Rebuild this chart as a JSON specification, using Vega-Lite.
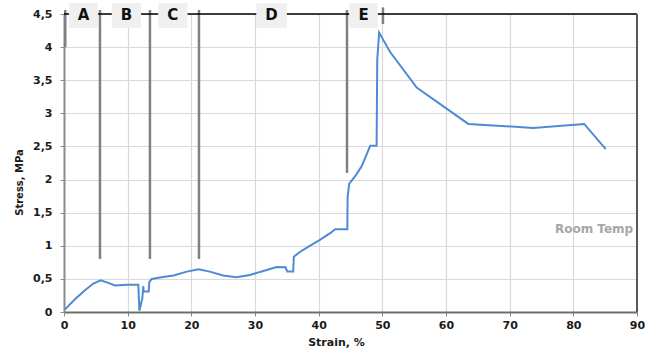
{
  "$schema": "https://vega.github.io/schema/vega-lite/v6.json",
  "autosize": {"type": "none"},
  "padding": {"left": 64, "top": 14, "right": 8, "bottom": 47},
  "width": 573,
  "height": 298,
  "background": "white",
  "config": {
    "view": {"stroke": null},
    "font": "DejaVu Sans",
    "axis": {
      "labelFont": "DejaVu Sans", "labelFontWeight": "bold", "labelFontSize": 11, "labelColor": "#1a1a1a",
      "titleFont": "DejaVu Sans", "titleFontWeight": "bold", "titleFontSize": 11, "titleColor": "#1a1a1a",
      "gridColor": "#d9d9d9", "gridWidth": 1.2, "tickColor": "#8c8c8c", "tickSize": 4, "labelOverlap": false, "labelFlush": false
    }
  },
  "datasets": {
    "curve": [
      {"strain": 0.16, "stress": 0.04},
      {"strain": 1.8, "stress": 0.2},
      {"strain": 3.3, "stress": 0.33},
      {"strain": 4.6, "stress": 0.43},
      {"strain": 5.76, "stress": 0.48},
      {"strain": 6.96, "stress": 0.44},
      {"strain": 8.0, "stress": 0.40},
      {"strain": 9.85, "stress": 0.41},
      {"strain": 11.67, "stress": 0.41},
      {"strain": 12.46, "stress": 0.39},
      {"strain": 12.2, "stress": 0.17},
      {"strain": 11.85, "stress": 0.02},
      {"strain": 12.05, "stress": 0.1},
      {"strain": 12.3, "stress": 0.2},
      {"strain": 12.5, "stress": 0.31},
      {"strain": 13.3, "stress": 0.31},
      {"strain": 13.4, "stress": 0.45},
      {"strain": 13.77, "stress": 0.50},
      {"strain": 15.1, "stress": 0.52},
      {"strain": 17.2, "stress": 0.55},
      {"strain": 19.3, "stress": 0.61},
      {"strain": 21.1, "stress": 0.645},
      {"strain": 22.9, "stress": 0.61},
      {"strain": 25.0, "stress": 0.55},
      {"strain": 27.1, "stress": 0.525},
      {"strain": 29.2, "stress": 0.56},
      {"strain": 31.3, "stress": 0.62},
      {"strain": 33.4, "stress": 0.68},
      {"strain": 34.8, "stress": 0.675},
      {"strain": 35.07, "stress": 0.61},
      {"strain": 36.0, "stress": 0.61},
      {"strain": 36.1, "stress": 0.835},
      {"strain": 37.1, "stress": 0.91},
      {"strain": 38.6, "stress": 1.0},
      {"strain": 40.2, "stress": 1.09},
      {"strain": 41.8, "stress": 1.19},
      {"strain": 42.6, "stress": 1.25},
      {"strain": 44.5, "stress": 1.25},
      {"strain": 44.55, "stress": 1.74},
      {"strain": 44.8, "stress": 1.94},
      {"strain": 45.8, "stress": 2.06},
      {"strain": 46.75, "stress": 2.2},
      {"strain": 48.1, "stress": 2.51},
      {"strain": 49.1, "stress": 2.51},
      {"strain": 49.2, "stress": 3.81},
      {"strain": 49.5, "stress": 4.22},
      {"strain": 51.2, "stress": 3.93},
      {"strain": 55.4, "stress": 3.39},
      {"strain": 63.5, "stress": 2.84},
      {"strain": 73.7, "stress": 2.78},
      {"strain": 81.7, "stress": 2.84},
      {"strain": 85.1, "stress": 2.46}
    ],
    "markers": [
      {"strain": 0.2, "top": 4.56, "bottom": 4.0},
      {"strain": 5.65, "top": 4.56, "bottom": 0.8},
      {"strain": 13.5, "top": 4.56, "bottom": 0.8},
      {"strain": 21.2, "top": 4.56, "bottom": 0.8},
      {"strain": 44.45, "top": 4.56, "bottom": 2.1},
      {"strain": 50.1, "top": 4.6, "bottom": 4.35}
    ],
    "boxes": [
      {"label": "A", "x1": 0.79, "x2": 5.35, "mid": 3.07},
      {"label": "B", "x1": 7.5, "x2": 12.1, "mid": 9.8},
      {"label": "C", "x1": 14.8, "x2": 19.4, "mid": 17.1},
      {"label": "D", "x1": 30.2, "x2": 35.0, "mid": 32.6},
      {"label": "E", "x1": 44.8, "x2": 49.3, "mid": 47.05}
    ],
    "note": [{"strain": 89.4, "stress": 1.25, "text": "Room Temp"}],
    "frame": [{"x": 90, "y": 4.5}]
  },
  "layer": [
    {
      "data": {"name": "curve"},
      "mark": {"type": "line", "color": "#4e8ad6", "strokeWidth": 2, "clip": false},
      "encoding": {
        "x": {"field": "strain", "type": "quantitative",
              "scale": {"domain": [0, 90], "nice": false},
              "axis": {"values": [0,10,20,30,40,50,60,70,80,90], "title": "Strain, %", "titleX": 272, "titlePadding": 6,
                       "domainColor": "#6e6e6e", "domainWidth": 2, "labelPadding": 3}},
        "y": {"field": "stress", "type": "quantitative",
              "scale": {"domain": [0, 4.5], "nice": false},
              "axis": {"values": [0,0.5,1,1.5,2,2.5,3,3.5,4,4.5], "title": "Stress, MPa", "titleFontSize": 10,
                       "labelExpr": "replace(format(datum.value, '~g'), '.', ',')",
                       "domainColor": "#8c8c8c", "domainWidth": 2, "labelPadding": 8, "titlePadding": 8, "titleY": 168}}
      }
    },
    {
      "data": {"name": "markers"},
      "mark": {"type": "rule", "color": "#808080", "strokeWidth": 2.5},
      "encoding": {
        "x": {"field": "strain", "type": "quantitative",
              "axis": {"values": [0,10,20,30,40,50,60,70,80,90], "title": "Strain, %", "titleX": 272, "titlePadding": 6,
                       "domainColor": "#6e6e6e", "domainWidth": 2, "labelPadding": 3}},
        "y": {"field": "top", "type": "quantitative",
              "axis": {"values": [0,0.5,1,1.5,2,2.5,3,3.5,4,4.5], "title": "Stress, MPa", "titleFontSize": 10,
                       "labelExpr": "replace(format(datum.value, '~g'), '.', ',')",
                       "domainColor": "#8c8c8c", "domainWidth": 2, "labelPadding": 8, "titlePadding": 8, "titleY": 168}},
        "y2": {"field": "bottom"}
      }
    },
    {
      "data": {"name": "frame"},
      "mark": {"type": "rule", "color": "#000000", "strokeWidth": 1.5},
      "encoding": {
        "y": {"field": "y", "type": "quantitative",
              "axis": {"values": [0,0.5,1,1.5,2,2.5,3,3.5,4,4.5], "title": "Stress, MPa", "titleFontSize": 10,
                       "labelExpr": "replace(format(datum.value, '~g'), '.', ',')",
                       "domainColor": "#8c8c8c", "domainWidth": 2, "labelPadding": 8, "titlePadding": 8, "titleY": 168}}
      }
    },
    {
      "data": {"name": "frame"},
      "mark": {"type": "rule", "color": "#595959", "strokeWidth": 2},
      "encoding": {
        "x": {"field": "x", "type": "quantitative",
              "axis": {"values": [0,10,20,30,40,50,60,70,80,90], "title": "Strain, %", "titleX": 272, "titlePadding": 6,
                       "domainColor": "#6e6e6e", "domainWidth": 2, "labelPadding": 3}}
      }
    },
    {
      "data": {"name": "boxes"},
      "mark": {"type": "rect", "fill": "#f0f0f0"},
      "encoding": {
        "x": {"field": "x1", "type": "quantitative",
              "axis": {"values": [0,10,20,30,40,50,60,70,80,90], "title": "Strain, %", "titleX": 272, "titlePadding": 6,
                       "domainColor": "#6e6e6e", "domainWidth": 2, "labelPadding": 3}},
        "x2": {"field": "x2"},
        "y": {"datum": 4.665, "type": "quantitative",
              "axis": {"values": [0,0.5,1,1.5,2,2.5,3,3.5,4,4.5], "title": "Stress, MPa", "titleFontSize": 10,
                       "labelExpr": "replace(format(datum.value, '~g'), '.', ',')",
                       "domainColor": "#8c8c8c", "domainWidth": 2, "labelPadding": 8, "titlePadding": 8, "titleY": 168}},
        "y2": {"datum": 4.29}
      }
    },
    {
      "data": {"name": "boxes"},
      "mark": {"type": "text", "fontSize": 15, "fontWeight": "bold", "font": "DejaVu Sans", "color": "#111111", "baseline": "middle", "align": "center"},
      "encoding": {
        "x": {"field": "mid", "type": "quantitative",
              "axis": {"values": [0,10,20,30,40,50,60,70,80,90], "title": "Strain, %", "titleX": 272, "titlePadding": 6,
                       "domainColor": "#6e6e6e", "domainWidth": 2, "labelPadding": 3}},
        "y": {"datum": 4.48, "type": "quantitative",
              "axis": {"values": [0,0.5,1,1.5,2,2.5,3,3.5,4,4.5], "title": "Stress, MPa", "titleFontSize": 10,
                       "labelExpr": "replace(format(datum.value, '~g'), '.', ',')",
                       "domainColor": "#8c8c8c", "domainWidth": 2, "labelPadding": 8, "titlePadding": 8, "titleY": 168}},
        "text": {"field": "label"}
      }
    },
    {
      "data": {"name": "note"},
      "mark": {"type": "text", "fontSize": 12, "fontWeight": "bold", "font": "DejaVu Sans", "color": "#a6a6a6", "baseline": "middle", "align": "right"},
      "encoding": {
        "x": {"field": "strain", "type": "quantitative",
              "axis": {"values": [0,10,20,30,40,50,60,70,80,90], "title": "Strain, %", "titleX": 272, "titlePadding": 6,
                       "domainColor": "#6e6e6e", "domainWidth": 2, "labelPadding": 3}},
        "y": {"field": "stress", "type": "quantitative",
              "axis": {"values": [0,0.5,1,1.5,2,2.5,3,3.5,4,4.5], "title": "Stress, MPa", "titleFontSize": 10,
                       "labelExpr": "replace(format(datum.value, '~g'), '.', ',')",
                       "domainColor": "#8c8c8c", "domainWidth": 2, "labelPadding": 8, "titlePadding": 8, "titleY": 168}},
        "text": {"field": "text"}
      }
    }
  ]
}
